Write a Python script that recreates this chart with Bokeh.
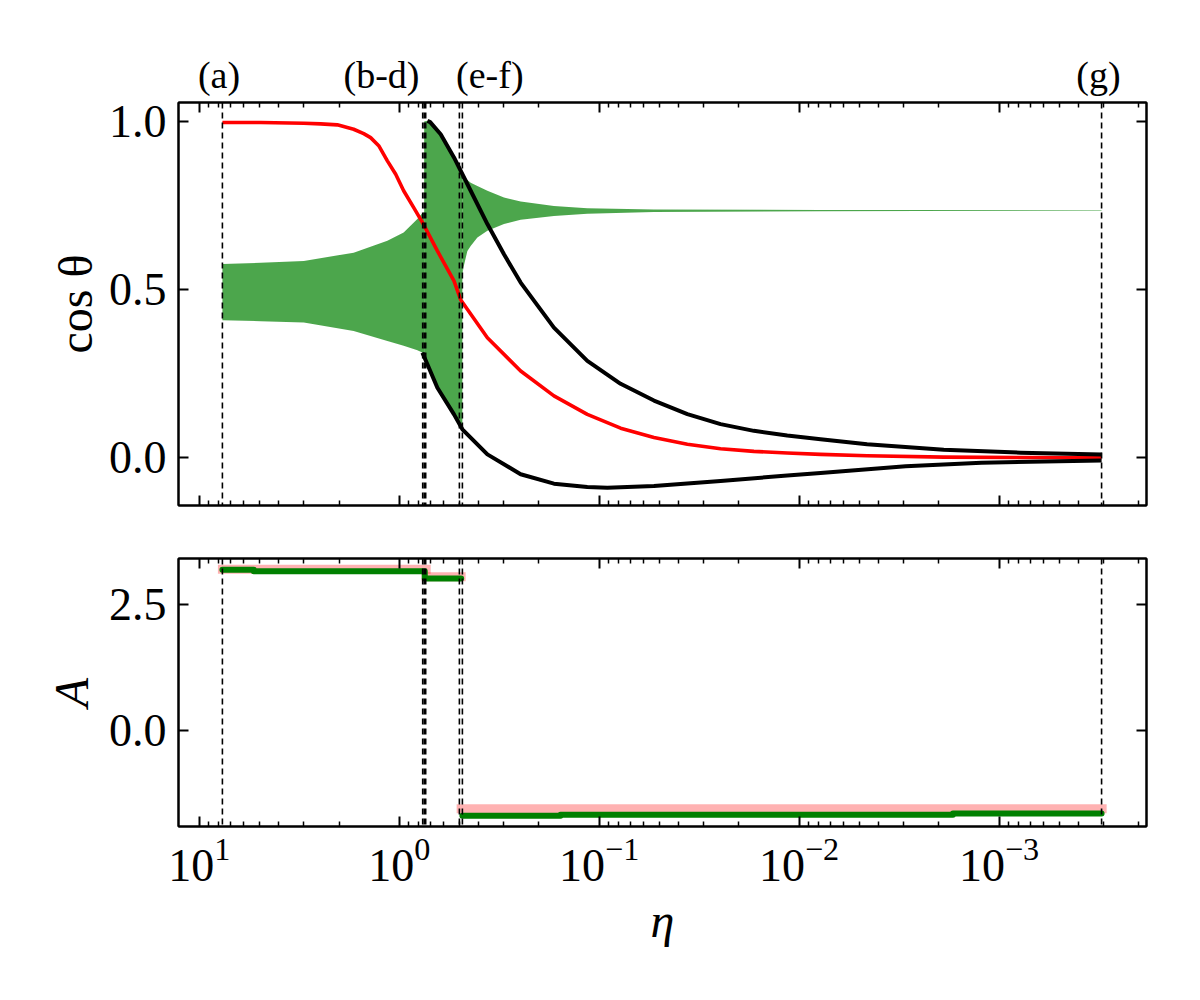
from bokeh.plotting import figure
from bokeh.models import (Range1d, LinearAxis, FixedTicker, Span, PrintfTickFormatter)
from bokeh.layouts import column
from bokeh.core.properties import value
from bokeh.embed import file_html
from bokeh.resources import INLINE

FONT = "Liberation Serif"

# ---------------- data ----------------
x_major = [10.0, 1.0, 0.1, 0.01, 0.001]
cos_ticks = [0.0, 0.5, 1.0]
A_ticks = [0.0, 2.5]

# vertical dashed markers (eta)
marker_eta = [7.66, 0.763, 0.750, 0.737, 0.500, 0.483, 3.07e-4]
# phase labels above the top panel and the eta at which each label is centred
marker_text = ["(a)", "(b-d)", "(e-f)", "(g)"]
marker_text_eta = [7.96, 1.226, 0.3521, 3.18e-4]

# red curve
red_eta = [7.66, 4.93, 3.00, 2.47, 2.04, 1.69, 1.505, 1.39, 1.266, 1.146, 1.041, 0.950,
           0.846, 0.7656, 0.6442, 0.5321, 0.4928, 0.3622, 0.2469, 0.1683, 0.1146, 0.0781,
           0.0532, 0.0362, 0.0247, 0.01683, 0.01146, 0.00781, 4.57e-3, 1.89e-3, 7.8e-4,
           3.07e-4]
red_cos = [0.997, 0.997, 0.995, 0.993, 0.990, 0.977, 0.964, 0.952, 0.928, 0.883, 0.843, 0.794,
           0.744, 0.700, 0.615, 0.526, 0.470, 0.357, 0.258, 0.184, 0.129, 0.088,
           0.060, 0.040, 0.027, 0.019, 0.014, 0.010, 0.006, 0.002, 0.0007,
           0.0]

# black envelope curves
up_eta = [0.7228, 0.700, 0.6202, 0.5321, 0.4390, 0.3622, 0.2992, 0.2469, 0.1683, 0.1146,
          0.0781, 0.0532, 0.0362, 0.0247, 0.01683, 0.01146, 0.00781, 4.57e-3, 1.89e-3,
          7.81e-4, 3.07e-4]
up_cos = [1.002, 0.998, 0.962, 0.893, 0.794, 0.695, 0.605, 0.521, 0.387, 0.288,
          0.220, 0.170, 0.130, 0.100, 0.080, 0.066, 0.055, 0.040, 0.024,
          0.015, 0.010]
lo_eta = [0.7656, 0.7228, 0.6442, 0.5321, 0.4831, 0.3622, 0.2469, 0.1683, 0.1146, 0.0910,
          0.0532, 0.0247, 0.01146, 0.00781, 2.93e-3, 1.224e-3, 3.07e-4]
lo_cos = [0.3125, 0.278, 0.208, 0.129, 0.0845, 0.010, -0.049, -0.077, -0.087, -0.089,
          -0.084, -0.069, -0.053, -0.045, -0.025, -0.015, -0.008]

# green oscillation band (upper / lower envelope)
band1_eta = [7.66, 4.93, 3.00, 1.69, 1.146, 0.950, 0.811, 0.772, 0.750]
band1_hi = [0.576, 0.580, 0.585, 0.610, 0.645, 0.670, 0.710, 0.725, 0.730]
band1_lo = [0.409, 0.406, 0.402, 0.377, 0.347, 0.333, 0.320, 0.314, 0.310]
band2_eta = [0.750, 0.7228, 0.6442, 0.6202, 0.5321, 0.4831]
band2_hi = [1.000, 1.002, 0.975, 0.962, 0.893, 0.840]
band2_lo = [0.300, 0.278, 0.208, 0.185, 0.129, 0.0845]
band3_eta = [0.4831, 0.4775, 0.4560, 0.4390, 0.4064, 0.3622, 0.2992, 0.2469, 0.1683,
             0.1146, 0.0532, 0.00781, 3.07e-4]
band3_hi = [0.838, 0.835, 0.826, 0.818, 0.808, 0.794, 0.774, 0.762, 0.749,
            0.742, 0.738, 0.737, 0.7365]
band3_lo = [0.540, 0.565, 0.615, 0.630, 0.655, 0.675, 0.695, 0.7075, 0.719,
            0.726, 0.731, 0.733, 0.735]

# bottom panel: A
pink_eta0 = [7.66, 0.733, 0.490]
pink_eta1 = [0.733, 0.490, 3.05e-4]
pink_A = [3.206, 3.054, -1.566]
green1_eta = [7.66, 5.34, 0.745, 0.490]
green1_A = [3.194, 3.166, 3.020, 3.020]
green2_eta = [0.483, 0.156, 1.70e-3, 3.07e-4]
green2_A = [-1.706, -1.684, -1.660, -1.660]

# ---------------- styling helpers ----------------
W = 1192
LEFT, RIGHT = 178, 46
X_RANGE = Range1d(12.7, 1.83e-4)
minor = [m * 10.0 ** e for e in range(-4, 2) for m in range(2, 10)]
minor = [v for v in minor if 1.83e-4 < v < 12.7]


def xticker():
    return FixedTicker(ticks=x_major, minor_ticks=minor)


def style(ax, labels, minor_ticks=True):
    ax.axis_line_width = 2
    ax.axis_line_color = "black"
    ax.major_tick_in = 10
    ax.major_tick_out = 0
    ax.major_tick_line_width = 2
    ax.minor_tick_in = 5
    ax.minor_tick_out = 0
    ax.minor_tick_line_width = 1.5
    if not minor_ticks:
        ax.minor_tick_line_color = None
    ax.major_label_text_font = FONT
    ax.axis_label_text_font = FONT
    ax.axis_label_text_color = "black"
    if labels:
        ax.major_label_text_color = "black"
        ax.major_label_text_font_size = "46px"
        ax.major_label_standoff = 12
        ax.axis_label_text_font_size = "48px"
    else:
        ax.major_label_text_font_size = "1px"
        ax.major_label_text_alpha = 0.0
        ax.major_label_standoff = 0


def base_fig(height, y_range, top, bottom):
    p = figure(width=W, height=height, x_axis_type="log", x_range=X_RANGE,
               y_range=y_range, output_backend="svg", toolbar_location=None,
               min_border_left=LEFT, min_border_right=RIGHT, min_border_top=top,
               min_border_bottom=bottom)
    p.grid.visible = False
    p.outline_line_color = "black"
    p.outline_line_width = 2
    p.background_fill_color = "white"
    p.border_fill_color = "white"
    return p


# ---------------- top panel ----------------
p1 = base_fig(525, Range1d(-0.142, 1.0565), 102, 20)
p1.xaxis.ticker = xticker()
style(p1.xaxis[0], labels=False)
p1.yaxis.ticker = FixedTicker(ticks=cos_ticks)
p1.yaxis.formatter = PrintfTickFormatter(format="%.1f")
style(p1.yaxis[0], labels=True, minor_ticks=False)
p1.yaxis.axis_label = "cos θ"
p1.yaxis.axis_label_standoff = 4
p1.yaxis.axis_label_text_font_style = "normal"

top_ax = LinearAxis(ticker=xticker())
style(top_ax, labels=False)
p1.add_layout(top_ax, "above")

# phase labels as an extra (tick-less) top axis
lab_ax = LinearAxis(ticker=FixedTicker(ticks=marker_text_eta, minor_ticks=[]),
                    major_label_overrides=dict(zip(marker_text_eta, marker_text)))
lab_ax.axis_line_color = None
lab_ax.major_tick_line_color = None
lab_ax.minor_tick_line_color = None
lab_ax.major_tick_in = 0
lab_ax.major_tick_out = 0
lab_ax.major_label_text_font = FONT
lab_ax.major_label_text_font_size = "38px"
lab_ax.major_label_text_color = "black"
lab_ax.major_label_standoff = 7
p1.add_layout(lab_ax, "above")

right_ax = LinearAxis(ticker=FixedTicker(ticks=cos_ticks))
style(right_ax, labels=False, minor_ticks=False)
p1.add_layout(right_ax, "right")

BAND = dict(fill_color="green", fill_alpha=0.7)
p1.varea(x=band1_eta, y1=band1_lo, y2=band1_hi, **BAND)
p1.varea(x=band2_eta, y1=band2_lo, y2=band2_hi, **BAND)
p1.varea(x=band3_eta, y1=band3_lo, y2=band3_hi, **BAND)

p1.line(red_eta, red_cos, line_color="red", line_width=3.6, line_join="round")
p1.line(up_eta, up_cos, line_color="black", line_width=4, line_join="round")
p1.line(lo_eta, lo_cos, line_color="black", line_width=4, line_join="round")

# ---------------- bottom panel ----------------
p2 = base_fig(441, Range1d(-1.92, 3.42), 33, 140)
p2.xaxis.ticker = xticker()
style(p2.xaxis[0], labels=True)
p2.xaxis.axis_label = "η"
p2.xaxis.axis_label_text_font_style = "italic"
p2.xaxis.axis_label_standoff = 10
p2.yaxis.ticker = FixedTicker(ticks=A_ticks)
p2.yaxis.formatter = PrintfTickFormatter(format="%.1f")
style(p2.yaxis[0], labels=True, minor_ticks=False)
p2.yaxis.axis_label = "A"
p2.yaxis.axis_label_text_font_style = "italic"
p2.yaxis.axis_label_standoff = 8

top_ax2 = LinearAxis(ticker=xticker())
style(top_ax2, labels=False)
p2.add_layout(top_ax2, "above")
right_ax2 = LinearAxis(ticker=FixedTicker(ticks=A_ticks))
style(right_ax2, labels=False, minor_ticks=False)
p2.add_layout(right_ax2, "right")

p2.segment(x0=pink_eta0, x1=pink_eta1, y0=pink_A, y1=pink_A, line_color="red",
           line_alpha=0.3, line_width=9, line_cap="square")
p2.step(green1_eta, green1_A, mode="after", line_color="green", line_width=6,
        line_cap="round", line_join="round")
p2.step(green2_eta, green2_A, mode="after", line_color="green", line_width=6,
        line_cap="round", line_join="round")

# dashed markers in both panels
for p in (p1, p2):
    for e in marker_eta:
        p.add_layout(Span(location=e, dimension="height", line_color="black",
                          line_width=1.6, line_dash="6 4"))

layout = column(p1, p2)
open("out.html", "w").write(file_html(layout, INLINE))
